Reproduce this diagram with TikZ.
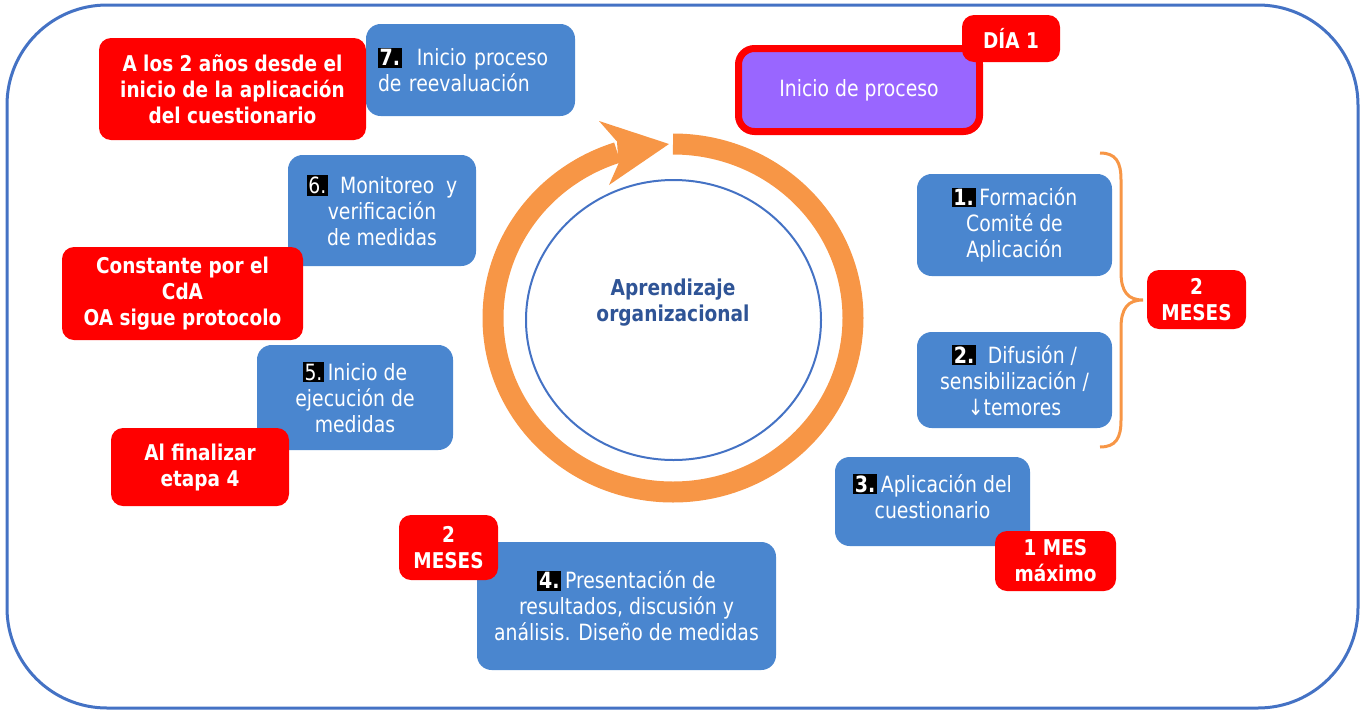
\documentclass[tikz,border=0pt]{standalone}
\usepackage{fontspec}
\usetikzlibrary{shapes.geometric}
\setmainfont{DejaVu Sans}
\newfontfamily\regfont[FakeStretch=0.84]{DejaVu Sans}
\newfontfamily\boldfont[FakeStretch=0.85]{DejaVu Sans Bold}
\definecolor{boxblue}{HTML}{4A86CF}
\definecolor{boxred}{HTML}{FF0000}
\definecolor{ringorange}{HTML}{F79646}
\definecolor{framblue}{HTML}{4472C4}
\definecolor{titleblue}{HTML}{2F5496}
\definecolor{purplefill}{HTML}{9966FF}
\setlength{\fboxsep}{1.3pt}
\newcommand{\stepnum}[1]{\colorbox{black}{#1}}
\tikzset{
  bluebox/.style={fill=boxblue, rounded corners=11pt, inner sep=0pt, align=center,
    text=white, font=\regfont\fontsize{16.8}{19.5}\selectfont},
  redbox/.style={fill=boxred, rounded corners=9pt, inner sep=0pt, align=center,
    text=white, font=\boldfont\fontsize{16.3}{19.5}\selectfont},
}
\begin{document}
\begin{tikzpicture}[x=0.75pt, y=-0.75pt]
\useasboundingbox (0,0) rectangle (1361,711);
% outer frame
\draw[framblue, line width=2.25pt, rounded corners=75pt] (7,5) rectangle (1358,708);

% ring arrow
\coordinate (ringc) at (673,318);
\draw[ringorange, line width=15.75pt] (673,144) arc[start angle=-90, end angle=252, x radius=180, y radius=174];
\fill[ringorange] (669,144) -- (599,121) -- (617,141.5) -- (618.5,163.5) -- (609,185) -- cycle;

% inner circle
\node[draw=framblue, line width=1.5pt, ellipse, minimum width=221.25pt, minimum height=210pt, inner sep=0pt] (core) at (673.5,320) {};
\node[text=titleblue, font=\boldfont\fontsize{16.4}{19.5}\selectfont, align=center] (coretext) at (673,303) {Aprendizaje\\organizacional};

% blue boxes
\node[bluebox, minimum width=156.75pt, minimum height=69pt, text width=138.75pt, align=left] (b7) at (470.5,70)
  {{\boldfont\stepnum{7.}}\ \ Inicio proceso\\de reevaluación};
\node[bluebox, minimum width=141pt, minimum height=83.25pt] (b6) at (382,210.5)
  {\stepnum{6.}\ \ Monitoreo\ \ y\\verificación\\de medidas};
\node[bluebox, minimum width=147pt, minimum height=78.75pt] (b5) at (355,397.5)
  {\stepnum{5.}\,Inicio de\\ejecución de\\medidas};
\node[bluebox, minimum width=224.25pt, minimum height=96pt] (b4) at (626.5,606)
  {{\boldfont\stepnum{4.}}\,Presentación de\\resultados, discusión y\\análisis. Diseño de medidas};
\node[bluebox, minimum width=146.25pt, minimum height=66.75pt, text depth=8pt] (b3) at (932.5,501.5)
  {{\boldfont\stepnum{3.}}\,Aplicación del\\cuestionario};
\node[bluebox, minimum width=146.25pt, minimum height=76.5pt] (b1) at (1014.5,225)
  {{\boldfont\stepnum{1.}}\,Formación\\Comité de\\Aplicación};
\node[bluebox, minimum width=146.25pt, minimum height=72pt] (b2) at (1014.5,380)
  {{\boldfont\stepnum{2.}}\ \ Difusión /\\sensibilización /\\↓temores};

% start box
\node[fill=purplefill, draw=boxred, line width=5.25pt, rounded corners=12pt, minimum width=180.75pt, minimum height=62.25pt, inner sep=0pt,
  text=white, font=\regfont\fontsize{16.8}{19.5}\selectfont] (start) at (859,90) {Inicio de proceso};

% brace
\draw[ringorange, line width=2.25pt] (1100,153) .. controls (1116,153) and (1121,162) .. (1121,180) -- (1121,272)
  .. controls (1121,292) and (1128,300) .. (1143,300) .. controls (1128,300) and (1121,308) .. (1121,328)
  -- (1121,420) .. controls (1121,438) and (1116,447) .. (1100,447);

% red boxes
\node[redbox, minimum width=200.25pt, minimum height=76.5pt] (rA) at (232.5,89)
  {A los 2 años desde el\\inicio de la aplicación\\del cuestionario};
\node[redbox, minimum width=180.75pt, minimum height=69.75pt] (rC) at (182.5,293.5)
  {Constante por el\\CdA\\OA sigue protocolo};
\node[redbox, minimum width=133.5pt, minimum height=58.5pt] (rF) at (200,467)
  {Al finalizar\\etapa 4};
\node[redbox, minimum width=74.25pt, minimum height=48.75pt] (r2L) at (448.5,547.5)
  {2\\MESES};
\node[redbox, minimum width=90.75pt, minimum height=45pt] (r1M) at (1055.5,561)
  {1 MES\\máximo};
\node[redbox, minimum width=74.25pt, minimum height=44.25pt] (r2R) at (1196.5,299.5)
  {2\\MESES};
\node[redbox, minimum width=73.5pt, minimum height=35.25pt] (rD) at (1011,38.5)
  {DÍA 1};
\end{tikzpicture}
\end{document}
